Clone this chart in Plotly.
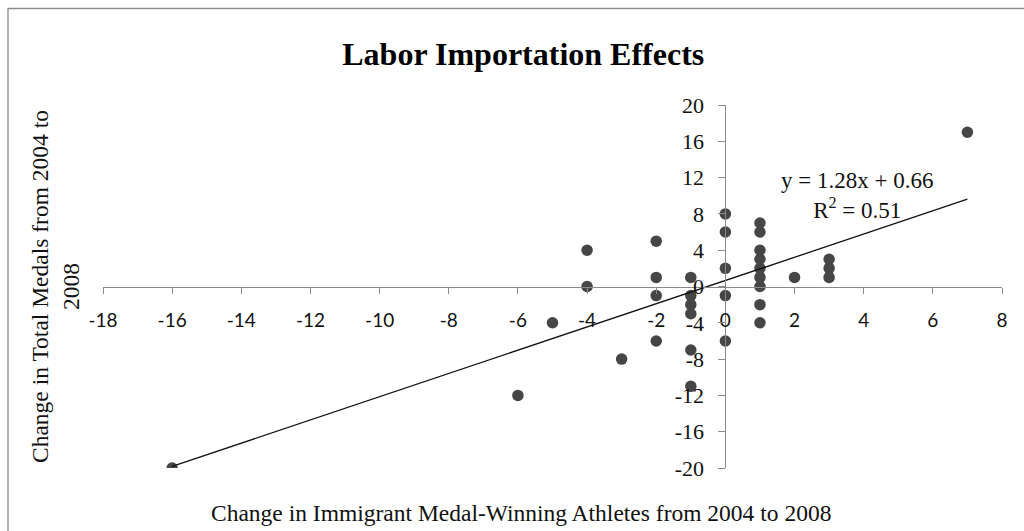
import plotly.graph_objects as go

# Change in immigrant medal-winning athletes (x) vs change in total medals (y), 2004 -> 2008
athletes_change = [-16, -6, -5, -4, -4, -3, -2, -2, -2, -2,
                   -1, -1, -1, -1, -1, -1, 0, 0, 0, 0, 0,
                   1, 1, 1, 1, 1, 1, 1, 1, 1, 2, 3, 3, 3, 7]
medals_change = [-20, -12, -4, 4, 0, -8, 5, 1, -1, -6,
                 1, -1, -2, -3, -7, -11, 8, 6, 2, -1, -6,
                 7, 6, 4, 3, 2, 1, 0, -2, -4, 1, 3, 2, 1, 17]

# Linear trendline as reported on the chart
slope = 1.28
intercept = 0.66
r_squared = 0.51

x_range = [-18, 8]
y_range = [-20, 20]
x_ticks = list(range(-18, 9, 2))
y_ticks = list(range(-20, 21, 4))
x_tick_labels = [str(v) for v in x_ticks]
y_tick_labels = [str(v) for v in y_ticks]

trend_x = [min(athletes_change), max(athletes_change)]
trend_y = [slope * v + intercept for v in trend_x]

fig = go.Figure()
fig.add_trace(go.Scatter(
    x=athletes_change, y=medals_change, mode="markers",
    marker=dict(size=11.5, color="#464646", line=dict(width=0)),
    showlegend=False, hoverinfo="x+y",
))
fig.add_trace(go.Scatter(
    x=trend_x, y=trend_y, mode="lines",
    line=dict(color="#111111", width=1.3),
    showlegend=False, hoverinfo="skip",
))

# y axis crosses the x axis at x = 0, x axis crosses at y = 0
y_cross = (0 - x_range[0]) / (x_range[1] - x_range[0])
x_cross = (0 - y_range[0]) / (y_range[1] - y_range[0])

fig.update_layout(
    width=1024, height=531,
    margin=dict(l=103, r=22, t=105, b=63),
    paper_bgcolor="white", plot_bgcolor="white",
    title=dict(
        text="<b>Labor Importation Effects</b>",
        font=dict(family="Liberation Serif", size=32, color="#000000"),
        xref="container", x=0.511, xanchor="center",
        yref="container", y=0.898, yanchor="middle",
    ),
    xaxis=dict(
        range=x_range, tickvals=x_ticks, ticktext=x_tick_labels,
        showgrid=False, zeroline=False,
        showline=True, linecolor="#8a8a8a", linewidth=1,
        ticks="outside", ticklen=6, tickcolor="#8a8a8a",
        anchor="free", position=x_cross, ticklabelstandoff=11,
        tickfont=dict(family="Lato", size=19, color="#111111"),
    ),
    yaxis=dict(
        range=y_range, tickvals=y_ticks, ticktext=y_tick_labels,
        showgrid=False, zeroline=False,
        showline=True, linecolor="#8a8a8a", linewidth=1,
        ticks="outside", ticklen=7, tickcolor="#8a8a8a",
        anchor="free", position=y_cross, ticklabelstandoff=10,
        tickfont=dict(family="Liberation Serif", size=22, color="#111111"),
    ),
)

eq_text = (f"y = {slope:.2f}x + {intercept:.2f}<br>"
           f"R<sup>2</sup> = {r_squared:.2f}")
fig.add_annotation(
    x=3.81, y=10.05, xref="x", yref="y", text=eq_text, showarrow=False,
    align="center", xanchor="center", yanchor="middle",
    font=dict(family="Liberation Serif", size=23, color="#111111"),
)

# Axis titles
fig.add_annotation(
    text="Change in Immigrant Medal-Winning Athletes from 2004 to 2008",
    xref="paper", yref="paper", x=(521 - 103) / 899, y=-(513 - 468) / 363,
    xanchor="center", yanchor="middle", showarrow=False,
    font=dict(family="Liberation Serif", size=23.5, color="#111111"),
)
fig.add_annotation(
    text="Change in Total Medals from 2004 to<br>2008",
    xref="paper", yref="paper", x=(55 - 103) / 899, y=(468 - 287) / 363,
    xanchor="center", yanchor="middle", showarrow=False, textangle=-90,
    font=dict(family="Liberation Serif", size=23.5, color="#111111"),
)

# Chart-area border (left and top edges visible)
fig.add_shape(
    type="rect", xref="paper", yref="paper",
    x0=(8 - 103) / 899, x1=1.2, y0=-0.4, y1=1 + (105 - 8.5) / 363,
    line=dict(color="#8c8c8c", width=1.3), fillcolor="rgba(0,0,0,0)",
    layer="below",
)

fig.write_html("out.html")
